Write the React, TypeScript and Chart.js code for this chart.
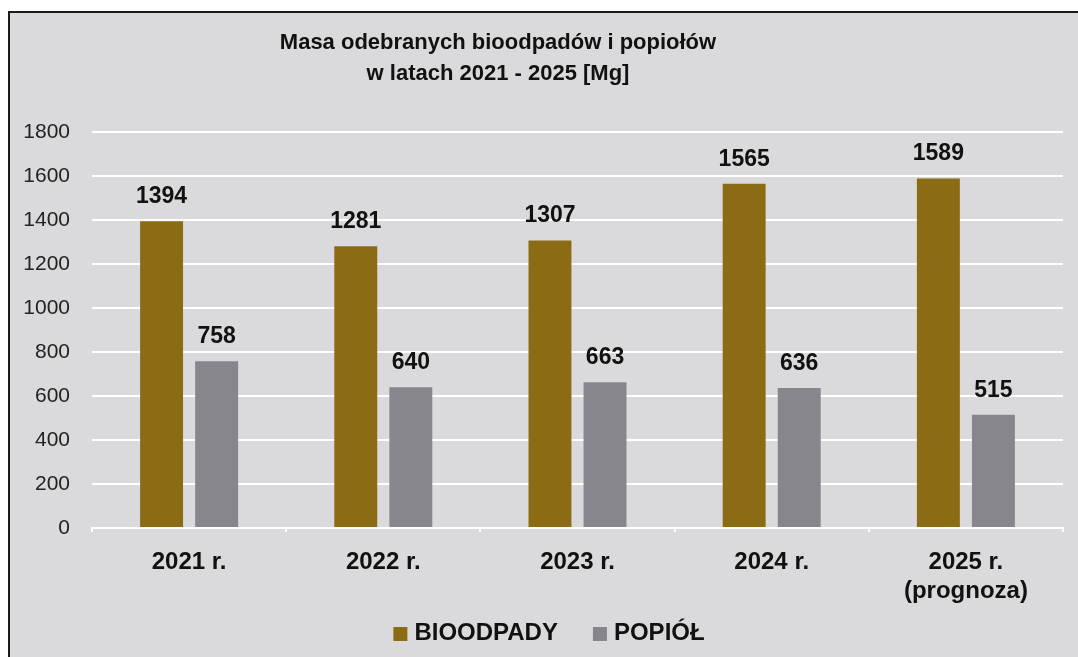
import React, { useEffect, useRef } from "react";
import { Chart, registerables } from "chart.js";

Chart.register(...registerables);

const categories: (string | string[])[] = ["2021 r.", "2022 r.", "2023 r.", "2024 r.", ["2025 r.", "(prognoza)"]];
const bioodpady = [1394, 1281, 1307, 1565, 1589];
const popiol = [758, 640, 663, 636, 515];
const seriesNames = ["BIOODPADY", "POPIÓŁ"];
const titleLines = ["Masa odebranych bioodpadów i popiołów", "w latach 2021 - 2025 [Mg]"];
const yMin = 0;
const yMax = 1800;
const yStep = 200;

const FONT = "'Liberation Sans', Arial, sans-serif";
const GOLD = "#8b6c14";
const GREY = "#86868c";

const titlePlugin = {
  id: "customTitle",
  afterDraw(chart: any) {
    const ctx = chart.ctx;
    ctx.save();
    ctx.fillStyle = "#111";
    ctx.font = `bold 22px ${FONT}`;
    ctx.textAlign = "center";
    ctx.textBaseline = "alphabetic";
    const cx = 488;
    ctx.fillText(titleLines[0], cx, 36);
    ctx.fillText(titleLines[1], cx, 67);
    ctx.restore();
  },
};

const legendPlugin = {
  id: "customLegend",
  afterDraw(chart: any) {
    const ctx = chart.ctx;
    ctx.save();
    ctx.font = `bold 24px ${FONT}`;
    ctx.textBaseline = "middle";
    ctx.textAlign = "left";
    const box = 14;
    const boxGap = 7;
    const itemGap = 35;
    const items = chart.data.datasets.map((ds: any) => ({
      text: ds.label,
      color: ds.backgroundColor,
      w: ctx.measureText(ds.label).width,
    }));
    const total = items.reduce((a: number, it: any) => a + box + boxGap + it.w, 0) + itemGap * (items.length - 1);
    const cx = 539;
    const cy = 620;
    let x = cx - total / 2;
    items.forEach((it: any) => {
      ctx.fillStyle = it.color;
      ctx.fillRect(x, cy - box / 2 + 1, box, box);
      x += box + boxGap;
      ctx.fillStyle = "#111";
      ctx.fillText(it.text, x, cy);
      x += it.w + itemGap;
    });
    ctx.restore();
  },
};

const valueLabels = {
  id: "valueLabels",
  afterDatasetsDraw(chart: any) {
    const ctx = chart.ctx;
    ctx.save();
    ctx.fillStyle = "#111";
    ctx.font = `bold 23px ${FONT}`;
    ctx.textAlign = "center";
    ctx.textBaseline = "alphabetic";
    chart.data.datasets.forEach((ds: any, i: number) => {
      const meta = chart.getDatasetMeta(i);
      meta.data.forEach((bar: any, j: number) => {
        ctx.fillText(String(ds.data[j]), bar.x, bar.y - 18);
      });
    });
    ctx.restore();
  },
};

export default function App() {
  const ref = useRef<HTMLCanvasElement>(null);
  useEffect(() => {
    if (!ref.current) return;
    const chart = new Chart(ref.current, {
      type: "bar",
      data: {
        labels: categories,
        datasets: [
          { label: seriesNames[0], data: bioodpady, backgroundColor: GOLD, categoryPercentage: 0.567, barPercentage: 0.78 },
          { label: seriesNames[1], data: popiol, backgroundColor: GREY, categoryPercentage: 0.567, barPercentage: 0.78 },
        ],
      },
      options: {
        animation: false,
        responsive: true,
        maintainAspectRatio: false,
        layout: { padding: { left: 10, right: 15, top: 119, bottom: 0 } },
        plugins: {
          title: { display: false },
          tooltip: { enabled: false },
          legend: { display: false },
        },
        scales: {
          x: {
            grid: { display: true, drawOnChartArea: false, color: "#ffffff", lineWidth: 2, tickLength: 4, offset: true },
            border: { display: true, color: "#ffffff", width: 2 },
            ticks: { color: "#111", padding: 16, font: { family: FONT, size: 24, weight: "bold" }, maxRotation: 0 },
            afterFit: (s: any) => { s.height = 129; },
          },
          y: {
            min: yMin,
            max: yMax,
            ticks: {
              stepSize: yStep,
              color: "#222",
              padding: 22,
              font: { family: FONT, size: 21 },
              callback: (v: any) => String(v),
            },
            grid: { color: "#ffffff", lineWidth: 2, drawTicks: false },
            border: { display: false },
            afterFit: (s: any) => { s.width = 72; },
          },
        },
      },
      plugins: [titlePlugin, valueLabels, legendPlugin],
    });
    return () => chart.destroy();
  }, []);

  return (
    <div style={{ position: "fixed", left: 0, top: 0, width: 1078, height: 657, background: "#ffffff", overflow: "hidden" }}>
      <div
        style={{
          position: "absolute",
          left: 8,
          top: 11,
          width: 1070,
          height: 646,
          boxSizing: "border-box",
          borderLeft: "2px solid #1c1c1c",
          borderTop: "2px solid #1c1c1c",
          background: "#dadadd",
        }}
      >
        <div style={{ position: "relative", width: 1068, height: 644 }}>
          <canvas ref={ref} />
        </div>
      </div>
    </div>
  );
}
